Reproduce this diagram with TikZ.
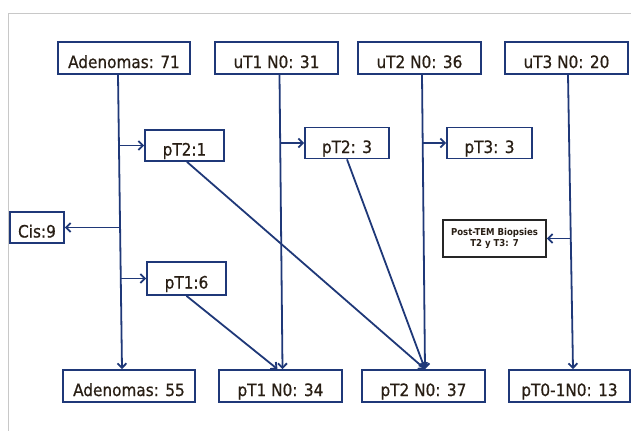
\documentclass[tikz,border=0pt]{standalone}
\usepackage{fontspec}
\setmainfont{DejaVu Sans Condensed}
\newfontfamily\boxfont{DejaVu Sans Condensed}[FakeBold=0.7]
\usetikzlibrary{arrows.meta}
\definecolor{navy}{RGB}{31,56,120}
\definecolor{framegray}{RGB}{200,200,200}
\definecolor{inkdark}{RGB}{40,30,20}
\tikzset{
	box/.style={draw=navy,line width=1.8pt,minimum height=32pt,inner sep=0pt,text=inkdark,text height=20pt,text depth=0pt,font=\boxfont\fontsize{17}{19}\selectfont},
	smallbox/.style={draw=black!85,line width=1.6pt,inner sep=0pt,align=center,text=inkdark,font=\bfseries\fontsize{9.5}{10.5}\selectfont},
	arr/.style={navy,line width=1.8pt,-{Straight Barb[length=4.5pt,width=9pt]}},
	link/.style={navy,line width=1.8pt}
}
\begin{document}
\begin{tikzpicture}[x=1pt,y=-1pt]
				\useasboundingbox (0,0) rectangle (631,431);
				\draw [color=framegray,line width=1pt] (631,13) -- (8,13) -- (8,431);
				
				\node[box,minimum width=132pt] (ad71) at (124,58) {Adenomas: 71};
				\node[box,minimum width=123pt] (ut1) at (276.5,58) {uT1 N0: 31};
				\node[box,minimum width=123pt] (ut2) at (419.5,58) {uT2 N0: 36};
				\node[box,minimum width=123pt] (ut3) at (566.5,58) {uT3 N0: 20};
				
				\node[box,minimum width=79pt,minimum height=31pt] (pt21) at (184.5,145.5) {pT2:1};
				\node[box,minimum width=84pt,minimum height=31pt] (pt23) at (347,143) {pT2: 3};
				\node[box,minimum width=85pt,minimum height=31pt] (pt33) at (489.5,143) {pT3: 3};
				\node[box,minimum width=54pt,minimum height=31pt] (cis) at (37,227.5) {Cis:9};
				\node[box,minimum width=79pt,minimum height=33pt] (pt16) at (186.5,278.5) {pT1:6};
				\node[smallbox,minimum width=103pt,minimum height=37pt] (post) at (494.5,238.5) {Post-TEM Biopsies\\T2 y T3: 7};
				
				\node[box,minimum width=132pt] (ad55) at (129,386) {Adenomas: 55};
				\node[box,minimum width=123pt] (pt1n0) at (280.5,386) {pT1 N0: 34};
				\node[box,minimum width=123pt] (pt2n0) at (423.5,386) {pT2 N0: 37};
				\node[box,minimum width=121pt] (pt01) at (569.5,386) {pT0-1N0: 13};
				
				% vertical lines
				\draw [arr] ([xshift=-6pt]ad71.south) -- ([xshift=-7pt]ad55.north);
				\draw [arr] ([xshift=3pt]ut1.south) -- ([xshift=2pt]pt1n0.north);
				\draw [arr] ([xshift=2.5pt]ut2.south) -- ([xshift=1.5pt]pt2n0.north);
				\draw [arr] ([xshift=1.5pt]ut3.south) -- ([xshift=3.5pt]pt01.north);
				
				% side branches
				\coordinate (spA) at (120,0);
				\coordinate (sp1) at (280,0);
				\coordinate (sp2) at (423,0);
				\coordinate (sp3) at (570,0);
				\draw [arr] (spA |- pt21.west) -- (pt21.west);
				\draw [arr] (spA |- cis.east) -- (cis.east);
				\draw [arr] (spA |- pt16.west) -- (pt16.west);
				\draw [arr] (sp1 |- pt23.west) -- (pt23.west);
				\draw [arr] (sp2 |- pt33.west) -- (pt33.west);
				\draw [arr] (sp3 |- post.east) -- (post.east);
				
				% diagonals
				\draw [arr] ([xshift=2.5pt]pt21.south) -- ([xshift=1.5pt]pt2n0.north);
				\draw [arr] (pt23.south) -- ([xshift=1.5pt]pt2n0.north);
				\draw [arr] (pt16.south) -- ([xshift=-3pt]pt1n0.north);
\end{tikzpicture}
\end{document}
